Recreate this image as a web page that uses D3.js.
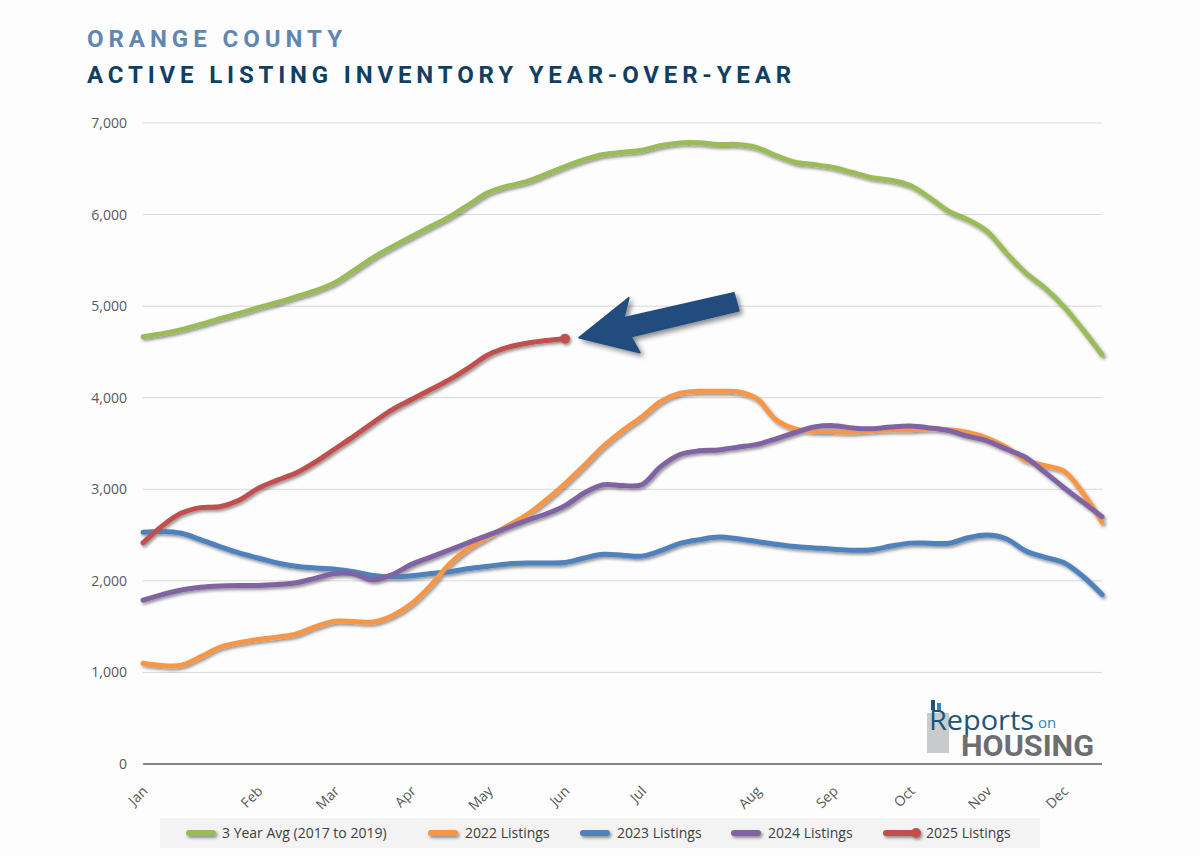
<!DOCTYPE html>
<html>
<head>
<meta charset="utf-8">
<script src="https://cdn.jsdelivr.net/npm/d3@7"></script>
<style>
  html, body { margin: 0; padding: 0; background: #ffffff; }
  svg { display: block; }
</style>
</head>
<body>
<svg id="chart" width="1200" height="856"></svg>
<script>
// ---------------- DATA ----------------
const titleLine1 = "ORANGE COUNTY";
const titleLine2 = "ACTIVE LISTING INVENTORY YEAR-OVER-YEAR";

const monthLabels = ["Jan","Feb","Mar","Apr","May","Jun","Jul","Aug","Sep","Oct","Nov","Dec"];
const monthWeekIndex = [0, 6, 10, 14, 18, 22, 26, 32, 36, 40, 44, 48];
const weekCount = 51;

const yTicks = [0, 1000, 2000, 3000, 4000, 5000, 6000, 7000];

const seriesNames = ["3 Year Avg (2017 to 2019)", "2022 Listings", "2023 Listings", "2024 Listings", "2025 Listings"];

const avg3yr = [4667,4700,4743,4800,4863,4920,4983,5040,5104,5170,
                5257,5390,5530,5650,5760,5870,5978,6110,6240,6310,
                6360,6440,6525,6600,6656,6680,6703,6754,6783,6783,
                6765,6765,6732,6645,6572,6546,6514,6459,6404,6375,
                6317,6186,6036,5945,5818,5582,5366,5202,4998,4743,4470];

const y2022 = [1100,1075,1080,1170,1275,1325,1360,1385,1420,1500,
               1560,1555,1550,1620,1750,1950,2190,2360,2480,2600,
               2720,2880,3060,3260,3470,3640,3790,3960,4050,4070,
               4070,4065,3990,3760,3660,3635,3630,3625,3640,3650,
               3650,3660,3650,3620,3560,3460,3320,3260,3200,2960,2640];

const y2023 = [2530,2540,2520,2450,2375,2305,2250,2195,2160,2140,
               2128,2100,2060,2045,2055,2080,2100,2135,2160,2185,
               2195,2195,2200,2250,2290,2280,2270,2330,2410,2450,
               2478,2460,2430,2400,2375,2360,2345,2335,2340,2380,
               2412,2412,2410,2470,2500,2460,2330,2260,2200,2050,1850];

const y2024 = [1790,1850,1900,1930,1945,1950,1950,1960,1980,2030,
               2080,2075,2010,2070,2180,2260,2340,2420,2500,2580,
               2660,2730,2820,2960,3050,3040,3050,3250,3380,3420,
               3430,3460,3490,3550,3620,3680,3695,3670,3660,3680,
               3690,3670,3640,3580,3530,3440,3350,3190,3020,2860,2700];

const y2025 = [2415,2600,2740,2800,2810,2880,3010,3100,3180,3300,
               3440,3580,3730,3870,3980,4090,4200,4330,4470,4550,
               4595,4625,4645];

const seriesColors = ["#9bbb59", "#f79646", "#4f81bd", "#8064a2", "#c0504d"];

// ---------------- LAYOUT ----------------
const svg = d3.select("#chart");
const plot = { left: 143, right: 1102, top: 123, bottom: 764 };

const x = d3.scaleLinear().domain([0, weekCount - 1]).range([plot.left, plot.right]);
const y = d3.scaleLinear().domain([0, 7000]).range([plot.bottom, plot.top]);

const defs = svg.append("defs");
const sh = defs.append("filter").attr("id", "shadow")
  .attr("filterUnits", "userSpaceOnUse")
  .attr("x", 0).attr("y", 0).attr("width", 1200).attr("height", 856);
sh.append("feDropShadow").attr("dx", 1.5).attr("dy", 2).attr("stdDeviation", 1.4)
  .attr("flood-color", "#000").attr("flood-opacity", 0.42);
const sh2 = defs.append("filter").attr("id", "shadowBig")
  .attr("filterUnits", "userSpaceOnUse")
  .attr("x", 0).attr("y", 0).attr("width", 1200).attr("height", 856);
sh2.append("feDropShadow").attr("dx", 3).attr("dy", 3).attr("stdDeviation", 2.5)
  .attr("flood-color", "#000").attr("flood-opacity", 0.45);

svg.append("rect").attr("width", 1200).attr("height", 856).attr("fill", "#fdfdfd");

// Titles
svg.append("text").attr("x", 87).attr("y", 47)
  .attr("textLength", 255).attr("lengthAdjust", "spacing")
  .style("font-family", "Roboto, 'Open Sans', sans-serif").style("font-weight", 700)
  .style("font-size", "24px").style("fill", "#5f87b1").text(titleLine1);
svg.append("text").attr("x", 87).attr("y", 83)
  .attr("textLength", 704).attr("lengthAdjust", "spacing")
  .style("font-family", "Roboto, 'Open Sans', sans-serif").style("font-weight", 700)
  .style("font-size", "24px").style("fill", "#0f3f63").text(titleLine2);

// Gridlines
svg.append("g").selectAll("line").data(yTicks.filter(d => d > 0)).join("line")
  .attr("x1", plot.left).attr("x2", plot.right)
  .attr("y1", d => y(d)).attr("y2", d => y(d))
  .attr("stroke", "#d9d9d9").attr("stroke-width", 1);

// Y axis
const yAxis = svg.append("g").attr("transform", `translate(${plot.left},0)`)
  .call(d3.axisLeft(y).tickValues(yTicks).tickFormat(d3.format(",")).tickSize(0).tickPadding(16));
yAxis.select(".domain").remove();
yAxis.selectAll("text")
  .style("font-family", "'Open Sans', 'Noto Sans', sans-serif").style("font-size", "14px")
  .style("fill", "#595959");

// X axis baseline
svg.append("line").attr("x1", plot.left).attr("x2", plot.right)
  .attr("y1", y(0)).attr("y2", y(0))
  .attr("stroke", "#858585").attr("stroke-width", 2);

// X axis labels
const xAxis = svg.append("g").attr("transform", `translate(0,${plot.bottom})`)
  .call(d3.axisBottom(x).tickValues(monthWeekIndex)
    .tickFormat((d, i) => monthLabels[i]).tickSize(0));
xAxis.select(".domain").remove();
xAxis.selectAll("text")
  .attr("y", 0).attr("dy", 0)
  .attr("text-anchor", "end")
  .attr("transform", "translate(5,28) rotate(-45)")
  .style("font-family", "'Open Sans', 'Noto Sans', sans-serif").style("font-size", "14px")
  .style("fill", "#595959");

// Lines
const line = d3.line().x((d, i) => x(i)).y(d => y(d)).curve(d3.curveCatmullRom.alpha(0.5));
const allSeries = [avg3yr, y2022, y2023, y2024, y2025];
const lg = svg.append("g").attr("filter", "url(#shadow)");
[2, 1, 3, 0, 4].forEach(k => {
  lg.append("path").datum(allSeries[k])
    .attr("d", line).attr("fill", "none")
    .attr("stroke", seriesColors[k]).attr("stroke-width", 5)
    .attr("stroke-linecap", "round").attr("stroke-linejoin", "round");
});
lg.append("circle")
  .attr("cx", x(y2025.length - 1)).attr("cy", y(y2025[y2025.length - 1]))
  .attr("r", 5).attr("fill", seriesColors[4]);

// Arrow annotation (points at last 2025 value)
const tipX = x(y2025.length - 1) + 14, tipY = y(y2025[y2025.length - 1]) - 1;
const arrowPts = [
  [tipX, tipY], [tipX + 50, tipY - 40], [tipX + 45, tipY - 20],
  [tipX + 155, tipY - 45], [tipX + 160, tipY - 27],
  [tipX + 52, tipY - 1], [tipX + 61, tipY + 15]
];
svg.append("polygon")
  .attr("points", arrowPts.map(p => p.join(",")).join(" "))
  .attr("fill", "#214b7e").attr("stroke", "#214b7e").attr("stroke-width", 1.5)
  .attr("stroke-linejoin", "round")
  .attr("filter", "url(#shadowBig)");

// Logo
const logo = svg.append("g");
logo.append("rect").attr("x", 927).attr("y", 713).attr("width", 22).attr("height", 40).attr("fill", "#c9cacc");
logo.append("rect").attr("x", 931).attr("y", 700).attr("width", 4).attr("height", 10).attr("fill", "#1d5577");
logo.append("rect").attr("x", 937).attr("y", 703).attr("width", 4).attr("height", 8).attr("fill", "#2f86b8");
logo.append("text").attr("x", 929).attr("y", 730)
  .attr("textLength", 105).attr("lengthAdjust", "spacingAndGlyphs")
  .style("font-family", "'Open Sans', sans-serif").style("font-size", "27px")
  .style("fill", "#1d5577").text("Reports");
logo.append("text").attr("x", 1038).attr("y", 728)
  .style("font-family", "'Open Sans', sans-serif").style("font-size", "15px")
  .style("fill", "#2f86b8").text("on");
logo.append("text").attr("x", 961).attr("y", 756)
  .attr("textLength", 133).attr("lengthAdjust", "spacingAndGlyphs")
  .style("font-family", "Roboto, 'Open Sans', sans-serif").style("font-weight", 700)
  .style("font-size", "30px").style("fill", "#6d6e71").text("HOUSING");

// Legend
svg.append("rect").attr("x", 160).attr("y", 818).attr("width", 880).attr("height", 30)
  .attr("fill", "#f3f3f3");
const legendSwatchX = [186, 428, 580, 731, 883];
const legendTextX = [222, 465, 617, 768, 926];
const leg = svg.append("g");
seriesNames.forEach((name, k) => {
  const g = leg.append("g").attr("filter", "url(#shadow)");
  const sw = k === 4 ? 33 : 30;
  g.append("rect").attr("x", legendSwatchX[k]).attr("y", 830)
    .attr("width", sw).attr("height", 6).attr("rx", 3)
    .attr("fill", seriesColors[k]);
  if (k === 4) {
    g.append("circle").attr("cx", legendSwatchX[k] + sw).attr("cy", 833).attr("r", 5)
      .attr("fill", seriesColors[k]);
  }
  leg.append("text").attr("x", legendTextX[k]).attr("y", 838)
    .style("font-family", "'Open Sans', 'Noto Sans', sans-serif").style("font-size", "14px")
    .style("fill", "#404040").text(name);
});
</script>
</body>
</html>
